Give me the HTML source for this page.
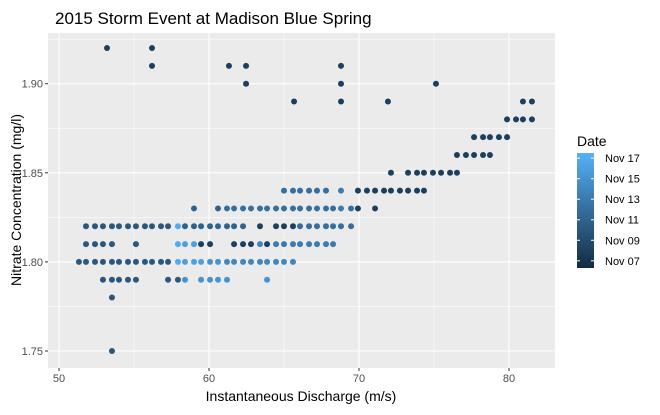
<!DOCTYPE html>
<html><head><meta charset="utf-8"><style>
body{margin:0;background:#fff;font-family:"Liberation Sans",Arial,sans-serif}
</style></head><body>
<svg id="chart" width="660" height="410" xmlns="http://www.w3.org/2000/svg" font-family="Liberation Sans, Arial, sans-serif">
<rect width="660" height="410" fill="#fff"/>
<text x="55" y="24" font-size="17" fill="#000">2015 Storm Event at Madison Blue Spring</text>
<g id="panel"></g>
<text x="301" y="401" font-size="14" text-anchor="middle" fill="#000">Instantaneous Discharge (m/s)</text>
<text transform="translate(21,200) rotate(-90)" font-size="14" text-anchor="middle" fill="#000">Nitrate Concentration (mg/l)</text>
<g id="legend"></g>
</svg>
<script>
const xTicks=[50,60,70,80];
const yTicks=[1.75,1.80,1.85,1.90];
const yTickLabels=["1.75","1.80","1.85","1.90"];
const legendDays=[7,9,11,13,15,17];
const legendLabels=["Nov 07","Nov 09","Nov 11","Nov 13","Nov 15","Nov 17"];
const discharge=[
53.2,56.2,
56.2,61.33,62.47,68.8,
62.47,68.8,75.13,
65.67,68.8,71.93,80.93,81.53,
79.87,80.47,80.93,81.53,
77.67,78.27,78.73,79.33,79.87,
76.53,77.13,77.67,78.27,78.73,
72.13,73.27,73.87,74.33,74.93,75.47,76.07,76.53,
65.0,65.6,66.07,66.67,67.2,67.8,68.8,69.93,70.53,71.07,71.67,72.13,72.73,73.27,73.87,74.33,
59.0,60.6,61.2,61.67,62.27,62.8,63.4,63.87,64.47,65.0,65.6,66.07,66.67,67.2,67.8,68.27,68.8,69.47,69.93,71.07,
51.8,52.4,52.93,53.53,54.0,54.6,55.13,55.73,56.2,56.8,57.27,57.93,58.4,59.0,59.47,60.07,60.6,61.2,61.67,62.27,63.4,64.47,65.0,65.6,66.07,66.67,67.2,67.8,68.27,68.8,69.47,
51.8,52.4,52.93,53.53,55.13,57.93,58.4,59.0,59.47,60.07,61.67,62.27,62.8,63.4,63.87,64.47,65.0,65.6,66.07,66.67,67.2,67.8,68.27,
51.33,51.8,52.4,52.93,53.53,54.0,54.6,55.13,55.73,56.2,56.8,57.27,57.93,58.4,59.0,59.47,60.07,60.6,61.2,61.67,62.27,62.8,63.4,63.87,64.47,65.0,65.6,
52.93,53.53,54.0,54.6,55.13,57.27,57.93,58.4,59.47,60.07,60.6,61.2,63.87,
53.53,53.53];
const nitrate=[
1.92,1.92,
1.91,1.91,1.91,1.91,
1.90,1.90,1.90,
1.89,1.89,1.89,1.89,1.89,
1.88,1.88,1.88,1.88,
1.87,1.87,1.87,1.87,1.87,
1.86,1.86,1.86,1.86,1.86,
1.85,1.85,1.85,1.85,1.85,1.85,1.85,1.85,
1.84,1.84,1.84,1.84,1.84,1.84,1.84,1.84,1.84,1.84,1.84,1.84,1.84,1.84,1.84,1.84,
1.83,1.83,1.83,1.83,1.83,1.83,1.83,1.83,1.83,1.83,1.83,1.83,1.83,1.83,1.83,1.83,1.83,1.83,1.83,1.83,
1.82,1.82,1.82,1.82,1.82,1.82,1.82,1.82,1.82,1.82,1.82,1.82,1.82,1.82,1.82,1.82,1.82,1.82,1.82,1.82,1.82,1.82,1.82,1.82,1.82,1.82,1.82,1.82,1.82,1.82,1.82,
1.81,1.81,1.81,1.81,1.81,1.81,1.81,1.81,1.81,1.81,1.81,1.81,1.81,1.81,1.81,1.81,1.81,1.81,1.81,1.81,1.81,1.81,1.81,
1.80,1.80,1.80,1.80,1.80,1.80,1.80,1.80,1.80,1.80,1.80,1.80,1.80,1.80,1.80,1.80,1.80,1.80,1.80,1.80,1.80,1.80,1.80,1.80,1.80,1.80,1.80,
1.79,1.79,1.79,1.79,1.79,1.79,1.79,1.79,1.79,1.79,1.79,1.79,1.79,
1.78,1.75];
const day=[
8,8,
8,8,8,8,
8,8,8,
8,8,8,8,8,
8,8,8,8,
8,8,8,8,8,
8,8,8,8,8,
8,8,8,8,8,8,8,8,
12,12,12,12,12,12,13,8,8,8,8,8,8,8,8,8,
11,11,12,12,12,12,12,12,12,12,12,12,12,12,12,12,13,12,8,8,
10,10,10,10,10,10,10,10,10,10,10,17,11,11,11,11,11,11,11,11,8,8,8,8,12,12,12,12,12,12,12,
10,10,10,10,10,17,16,16,8,8,8,8,8,14,8,13,13,13,13,13,13,13,13,
10,10,10,10,10,10,10,10,10,10,10,10,17,16,16,16,15,15,14,14,14,14,14,14,14,14,14,
10,10,10,10,10,10,10,15,15,15,15,15,15,
10,10];
const NS="http://www.w3.org/2000/svg";
const L=48,R=555,T=33,B=368;
const xS=v=>59+(v-50)*15;
const yS=v=>351-(v-1.75)*1782;
const dMin=6.3,dMax=17.5;
function col(d){const t=Math.max(0,Math.min(1,(d-dMin)/(dMax-dMin)));
const a=[19,43,67],b=[86,177,247];
return `rgb(${a.map((c,i)=>Math.round(c+(b[i]-c)*t)).join(",")})`;}
function mk(tag,at,parent){const e=document.createElementNS(NS,tag);for(const k in at)e.setAttribute(k,at[k]);parent.appendChild(e);return e;}
const P=document.getElementById('panel');
mk('rect',{x:L,y:T,width:R-L,height:B-T,fill:'#EBEBEB'},P);
// minor grid
for(let i=0;i<xTicks.length;i++){const m=xTicks[i]+5;const x=xS(m);if(x<R&&x>L){const l=mk('line',{x1:x,x2:x,y1:T,y2:B,stroke:'#fff','stroke-width':0.55},P);}}
{const x=xS(45);if(x>L){mk('line',{x1:x,x2:x,y1:T,y2:B,stroke:'#fff','stroke-width':0.55},P);}}
for(let i=0;i<yTicks.length;i++){const y=yS(yTicks[i]+0.025);if(y>T){const l=mk('line',{x1:L,x2:R,y1:y,y2:y,stroke:'#fff','stroke-width':0.55},P);}}
{const y=yS(1.725);if(y<B)mk('line',{x1:L,x2:R,y1:y,y2:y,stroke:'#fff','stroke-width':0.55},P);}
const svg=document.getElementById('chart');
xTicks.forEach(v=>{const x=xS(v);
const l=mk('line',{x1:x,x2:x,y1:T,y2:B,stroke:'#fff','stroke-width':1.1},P);


mk('line',{x1:x,x2:x,y1:B,y2:B+3,stroke:'#333','stroke-width':1},svg);
const t=mk('text',{x:x,y:B+14,'font-size':11,'text-anchor':'middle',fill:'#4D4D4D'},svg);t.textContent=v;

});
yTicks.forEach((v,i)=>{const y=yS(v);
const l=mk('line',{x1:L,x2:R,y1:y,y2:y,stroke:'#fff','stroke-width':1.1},P);


mk('line',{x1:L-3,x2:L,y1:y,y2:y,stroke:'#333','stroke-width':1},svg);
const t=mk('text',{x:L-5,y:y+4,'font-size':11,'text-anchor':'end',fill:'#4D4D4D'},svg);t.textContent=yTickLabels[i];

});
for(let i=0;i<discharge.length;i++){
const c=mk('circle',{cx:xS(discharge[i]),cy:yS(nitrate[i]),r:3,fill:col(day[i])},P);

}
// legend
const G=document.getElementById('legend');
const lt=mk('text',{x:577,y:146,'font-size':14,fill:'#000'},G);lt.textContent='Date';


const defs=mk('defs',{},G);const gr=mk('linearGradient',{id:'lg',x1:0,y1:1,x2:0,y2:0},defs);
for(let k=0;k<=10;k++){mk('stop',{offset:k/10,'stop-color':col(dMin+(dMax-dMin)*k/10)},gr);}
const barT=153,barB=268;
const ly=d=>barB-(d-dMin)/(dMax-dMin)*(barB-barT);
const bar=mk('rect',{x:577,y:barT,width:17,height:barB-barT,fill:'url(#lg)'},G);


legendDays.forEach((d,i)=>{const y=ly(d);
mk('line',{x1:577,x2:580,y1:y,y2:y,stroke:'#fff','stroke-width':1},G);
mk('line',{x1:591,x2:594,y1:y,y2:y,stroke:'#fff','stroke-width':1},G);
const t=mk('text',{x:605,y:y+4,'font-size':11,fill:'#000'},G);t.textContent=legendLabels[i];

});
</script>
</body></html>
